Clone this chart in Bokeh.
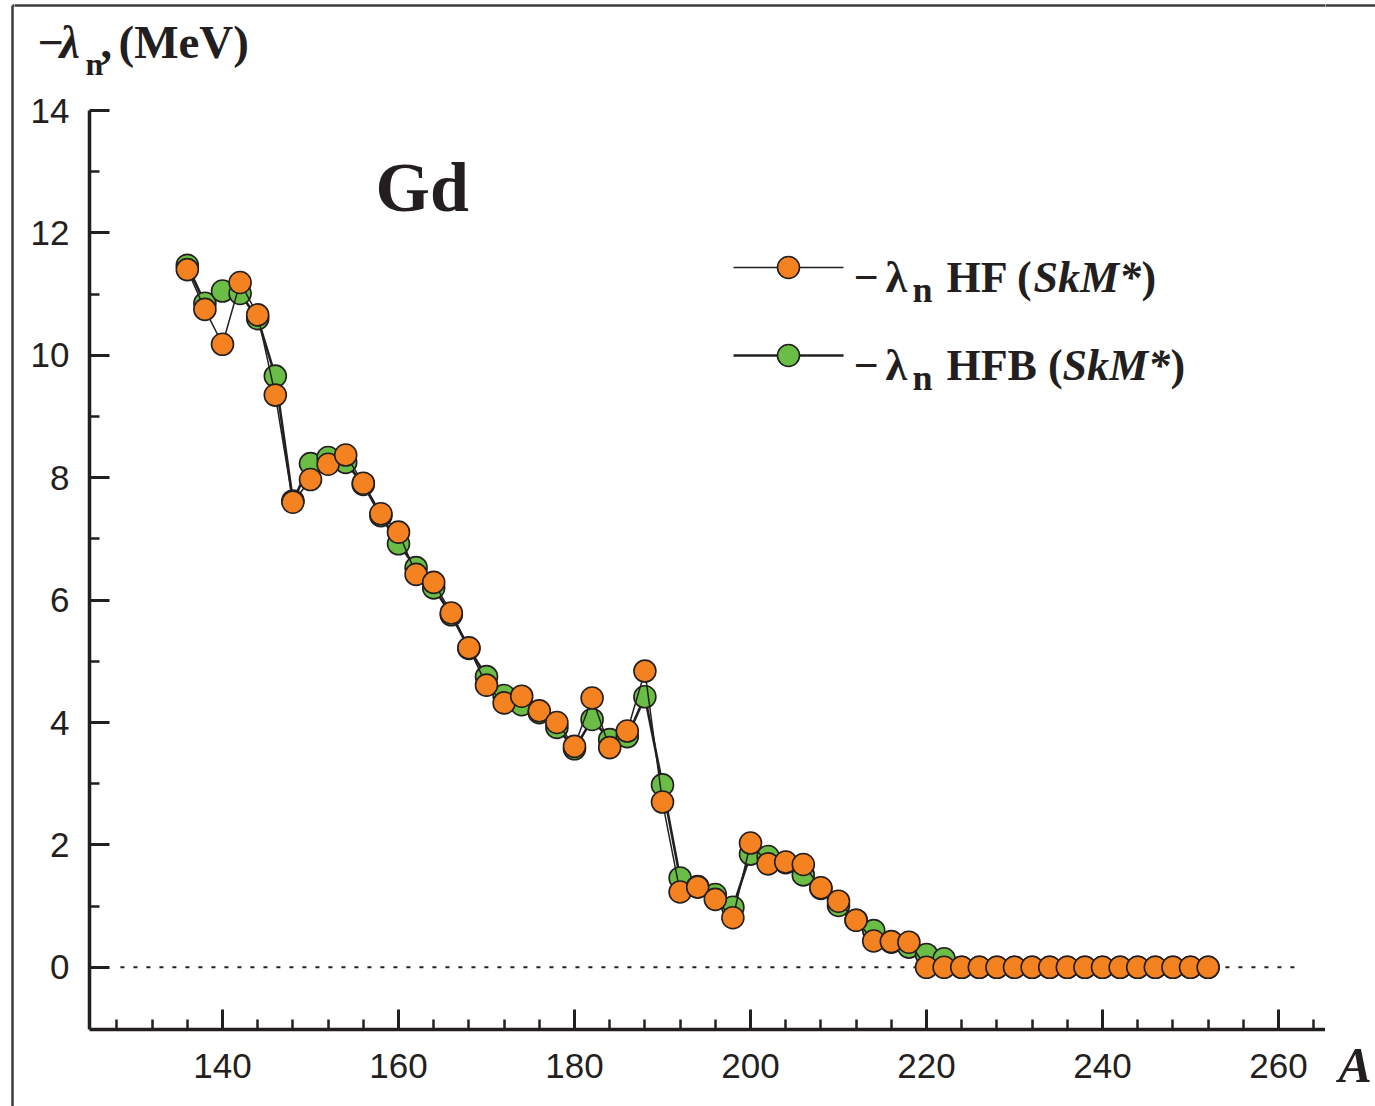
from bokeh.plotting import figure
from bokeh.models import FixedTicker, Label
from bokeh.layouts import row, column
from bokeh.embed import file_html
from bokeh.resources import INLINE

# Mass numbers of the Gd isotopes
mass_number = list(range(136, 254, 2))

# -lambda_n (MeV), HF with SkM*
hf_skm = [11.40, 10.75, 10.18, 11.19, 10.66, 9.35, 7.60, 7.97, 8.22, 8.37,
          7.91, 7.41, 7.11, 6.42, 6.29, 5.79, 5.22, 4.61, 4.32, 4.43,
          4.19, 4.00, 3.61, 4.40, 3.59, 3.86, 4.84, 2.70, 1.23, 1.31,
          1.11, 0.81, 2.03, 1.69, 1.72, 1.68, 1.30, 1.08, 0.77, 0.43,
          0.42, 0.41,
          0, 0, 0, 0, 0, 0, 0, 0, 0, 0, 0, 0, 0, 0, 0, 0, 0]

# -lambda_n (MeV), HFB with SkM*
hfb_skm = [11.47, 10.85, 11.05, 11.01, 10.60, 9.66, 7.62, 8.23, 8.33, 8.25,
           7.89, 7.38, 6.92, 6.53, 6.20, 5.76, 5.21, 4.75, 4.44, 4.29,
           4.16, 3.92, 3.57, 4.05, 3.72, 3.77, 4.42, 2.98, 1.46, 1.32,
           1.19, 0.98, 1.85, 1.81, 1.71, 1.51, 1.29, 1.01, 0.77, 0.60,
           0.41, 0.33, 0.21, 0.14,
           0, 0, 0, 0, 0, 0, 0, 0, 0, 0, 0, 0, 0, 0, 0]

x_major = [140, 160, 180, 200, 220, 240, 260]
x_minor = list(range(128, 268, 4))
y_major = [0, 2, 4, 6, 8, 10, 12, 14]
y_minor = [1, 3, 5, 7, 9, 11, 13]
zero_line_a = [128.4, 262.2]

# page geometry (pixels from the top-left corner of the page)
W, H = 1375, 1106
LEFT, RIGHT, TOP, BOTTOM = 89, 1325, 110, 1029
STRIP_W = 14          # left strip carrying the frame edge
HEAD_H = 88           # top strip carrying the quantity label
TAIL_W = W - RIGHT    # right strip carrying the "A" label
X_PER_PX = 1 / 8.8
Y_PER_PX = 1 / 61.2
X0 = 140 - (222 - LEFT) * X_PER_PX
X1 = X0 + (RIGHT - LEFT) * X_PER_PX
Y1 = 14.0
Y0 = Y1 - (BOTTOM - TOP) * Y_PER_PX

INK = "#231F20"
EDGE = "#3C3C3C"
ORANGE = "#F58220"
GREEN = "#6ABD45"
SERIF = "Liberation Serif"
SANS = "Liberation Sans"
LIFT = 0.35   # baseline correction, in em


def dx(sx):
    return X0 + (sx - LEFT) * X_PER_PX


def dy(sy):
    return Y1 - (sy - TOP) * Y_PER_PX


def strip(w, h):
    f = figure(width=w, height=h, x_range=(0, w), y_range=(h, 0),
               output_backend="svg", toolbar_location=None, min_border=0,
               x_axis_type=None, y_axis_type=None)
    f.outline_line_color = None
    f.background_fill_color = "white"
    f.border_fill_color = "white"
    return f


def label(fig, x, y, s, size, style="bold"):
    fig.add_layout(Label(x=x, y=y, text=s, text_font=SERIF,
                         text_font_size=f"{size}px", text_font_style=style,
                         text_color=INK, text_align="left",
                         text_baseline="alphabetic"))


def strip_text(fig, ox, oy, sx, base, s, size, style="bold"):
    label(fig, sx - ox, base - LIFT * size - oy, s, size, style)


def main_text(sx, base, s, size, style="bold"):
    label(p, dx(sx), dy(base - LIFT * size), s, size, style)


# ---- main plot ----
p = figure(width=RIGHT - STRIP_W, height=H - HEAD_H,
           x_range=(X0, X1), y_range=(Y0, Y1),
           output_backend="svg", toolbar_location=None,
           min_border_left=LEFT - STRIP_W, min_border_right=0,
           min_border_top=TOP - HEAD_H, min_border_bottom=H - BOTTOM)
p.outline_line_color = None
p.grid.visible = False
p.background_fill_color = "white"
p.border_fill_color = "white"

for ax, major, minor in ((p.xaxis, x_major, x_minor), (p.yaxis, y_major, y_minor)):
    ax.ticker = FixedTicker(ticks=major, minor_ticks=minor)
    ax.axis_line_color = INK
    ax.axis_line_width = 3.5
    ax.major_tick_line_color = INK
    ax.minor_tick_line_color = INK
    ax.major_tick_line_width = 3
    ax.minor_tick_line_width = 2.5
    ax.major_tick_in = 20
    ax.major_tick_out = 0
    ax.minor_tick_in = 10
    ax.minor_tick_out = 0
    ax.major_label_text_font = SANS
    ax.major_label_text_font_size = "35px"
    ax.major_label_text_color = INK
p.xaxis.major_label_standoff = 24
p.yaxis.major_label_standoff = 20

# dotted zero reference
p.line(zero_line_a, [0, 0], line_color=INK, line_width=2, line_dash="4 9")

# HFB series
p.line(mass_number, hfb_skm, line_color=INK, line_width=2.6)
p.scatter(mass_number, hfb_skm, marker="circle", size=22, fill_color=GREEN,
          line_color=INK, line_width=1.6)
# HF series
p.line(mass_number, hf_skm, line_color=INK, line_width=1.5)
p.scatter(mass_number, hf_skm, marker="circle", size=22, fill_color=ORANGE,
          line_color=INK, line_width=1.6)

# legend samples
for row_y, fill, lw in ((267, ORANGE, 1.5), (355, GREEN, 2.6)):
    p.line([dx(733), dx(843)], [dy(row_y), dy(row_y)], line_color=INK, line_width=lw)
    p.scatter([dx(788)], [dy(row_y)], marker="circle", size=22, fill_color=fill,
              line_color=INK, line_width=1.6)

# legend texts
for base, name, skm_x, close_x in ((292, "HF (", 1033, 1141),
                                   (380, "HFB (", 1062, 1170)):
    main_text(853, base, "\u2212", 44)
    main_text(885, base, "\u03bb", 44)
    main_text(912, base + 10, "n", 36)
    main_text(946, base, name, 44)
    main_text(skm_x, base, "SkM*", 44, "bold italic")
    main_text(close_x, base, ")", 44)

# element name
main_text(375, 211, "Gd", 70)

# ---- top strip: quantity label and upper frame edge ----
head = strip(RIGHT - STRIP_W, HEAD_H)
head.line([-5, RIGHT - STRIP_W + 5], [5, 5], line_color=EDGE, line_width=2.5)
strip_text(head, STRIP_W, 0, 37, 58, "\u2212", 46)
strip_text(head, STRIP_W, 0, 59, 58, "\u03bb", 46, "bold italic")
strip_text(head, STRIP_W, 0, 85, 75, "n", 32)
strip_text(head, STRIP_W, 0, 100, 58, ",", 46)
strip_text(head, STRIP_W, 0, 118, 58, "(MeV)", 47)

# ---- left strip: left frame edge ----
edge = strip(STRIP_W, H)
edge.line([12, 12], [5, H + 5], line_color=EDGE, line_width=2.5)
edge.line([12, STRIP_W + 5], [5, 5], line_color=EDGE, line_width=2.5)

# ---- right strip: upper frame edge and mass number label ----
tail = strip(TAIL_W, H)
tail.line([-5, TAIL_W + 5], [5, 5], line_color=EDGE, line_width=2.5)
strip_text(tail, RIGHT, 0, 1338, 1082, "A", 50, "bold italic")

# wrapping each figure keeps the layout from lining up their inner frames
page = row(edge, column(head, row(p, spacing=0), spacing=0), column(tail), spacing=0)

open("out.html", "w").write(file_html(page, INLINE))
